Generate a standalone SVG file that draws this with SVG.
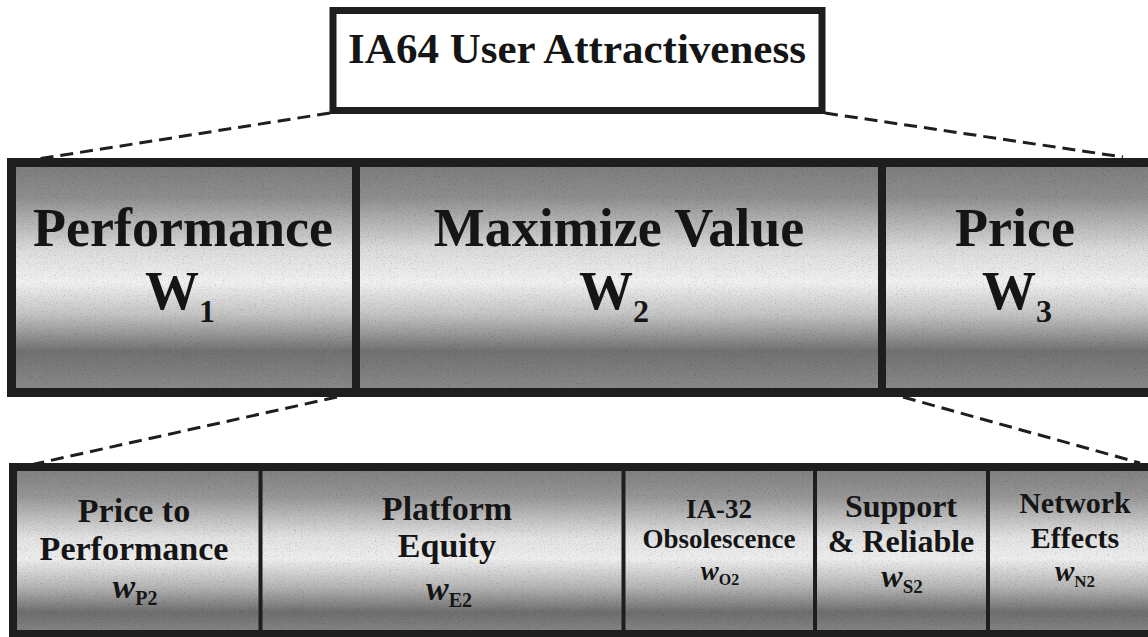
<svg xmlns="http://www.w3.org/2000/svg" width="1148" height="637" viewBox="0 0 1148 637">
  <style>
    .t { font-family: "Liberation Serif", "Times New Roman", serif; font-weight: bold; fill: #151515; text-anchor: middle; }
    .w { font-style: italic; }
    .sub { font-style: normal; }
    .frame { fill: none; stroke: #1e1e1e; }
    .dash { fill: none; stroke: #1e1e1e; stroke-width: 3; stroke-dasharray: 13 7; }
    .div { stroke: #1e1e1e; }
  </style>
  <defs>
    <!-- brushed-metal style vertical shading for the bands -->
    <linearGradient id="metalMid" x1="0" y1="0" x2="0" y2="1">
      <stop offset="0" stop-color="#7c7c7c"/>
      <stop offset="0.15" stop-color="#8e8e8e"/>
      <stop offset="0.38" stop-color="#dcdcdc"/>
      <stop offset="0.52" stop-color="#f1f1f1"/>
      <stop offset="0.66" stop-color="#c4c4c4"/>
      <stop offset="0.82" stop-color="#717171"/>
      <stop offset="1" stop-color="#8c8c8c"/>
    </linearGradient>
    <linearGradient id="metalLow" x1="0" y1="0" x2="0" y2="1">
      <stop offset="0" stop-color="#7e7e7e"/>
      <stop offset="0.18" stop-color="#979797"/>
      <stop offset="0.42" stop-color="#e2e2e2"/>
      <stop offset="0.55" stop-color="#eeeeee"/>
      <stop offset="0.72" stop-color="#b4b4b4"/>
      <stop offset="0.87" stop-color="#6e6e6e"/>
      <stop offset="1" stop-color="#888888"/>
    </linearGradient>
    <!-- fine speckle texture over the shading -->
    <filter id="grain" x="0" y="0" width="100%" height="100%">
      <feTurbulence type="fractalNoise" baseFrequency="0.85" numOctaves="2" seed="7" result="noise"/>
      <feColorMatrix in="noise" type="matrix" values="0.5 0.5 0.5 0 0.26  0.5 0.5 0.5 0 0.26  0.5 0.5 0.5 0 0.26  0 0 0 0 1" result="gray"/>
      <feBlend in="SourceGraphic" in2="gray" mode="multiply" result="mixed"/>
      <feComposite in="mixed" in2="SourceGraphic" operator="in"/>
    </filter>
  </defs>

  <rect width="1148" height="637" fill="#ffffff"/>

  <!-- connectors -->
  <g id="connectors">
    <line class="dash" x1="330" y1="113" x2="38" y2="159"/>
    <line class="dash" x1="825" y1="113" x2="1123" y2="157"/>
    <line class="dash" x1="337" y1="397" x2="30" y2="465"/>
    <line class="dash" x1="903" y1="397" x2="1140" y2="463"/>
  </g>

  <!-- goal -->
  <g id="goal">
    <rect x="333" y="10.5" width="489" height="100" fill="#ffffff" class="frame" stroke-width="7"/>
    <text class="t" x="577" y="63" font-size="43">IA64 User Attractiveness</text>
  </g>

  <!-- top-level criteria band -->
  <g id="criteria">
    <rect x="11.5" y="162.5" width="1150" height="230" fill="url(#metalMid)" filter="url(#grain)"/>
    <rect x="11.5" y="162.5" width="1150" height="230" class="frame" stroke-width="9"/>
    <line class="div" x1="356" y1="162" x2="356" y2="393" stroke-width="8"/>
    <line class="div" x1="882" y1="162" x2="882" y2="393" stroke-width="8"/>
  </g>
  <g id="performance">
    <text class="t" x="183" y="246" font-size="54">Performance</text>
    <text class="t" x="180" y="309" font-size="54">W<tspan font-size="32" dy="13">1</tspan></text>
  </g>
  <g id="maximize-value">
    <text class="t" x="619" y="246" font-size="54">Maximize Value</text>
    <text class="t" x="614" y="309" font-size="54">W<tspan font-size="32" dy="13">2</tspan></text>
  </g>
  <g id="price">
    <text class="t" x="1015" y="246" font-size="54">Price</text>
    <text class="t" x="1017" y="309" font-size="54">W<tspan font-size="32" dy="13">3</tspan></text>
  </g>

  <!-- value sub-criteria band -->
  <g id="subcriteria">
    <rect x="13" y="467" width="1150" height="167" fill="url(#metalLow)" filter="url(#grain)"/>
    <rect x="13" y="467" width="1150" height="167" class="frame" stroke-width="8"/>
    <line class="div" x1="260.5" y1="467" x2="260.5" y2="634" stroke-width="4"/>
    <line class="div" x1="623.5" y1="467" x2="623.5" y2="634" stroke-width="4"/>
    <line class="div" x1="815" y1="467" x2="815" y2="634" stroke-width="4"/>
    <line class="div" x1="988" y1="467" x2="988" y2="634" stroke-width="4"/>
  </g>
  <g id="price-to-performance">
    <text class="t" x="134" y="522" font-size="34">Price to</text>
    <text class="t" x="134" y="560" font-size="34">Performance</text>
    <text class="t" x="135" y="598" font-size="34"><tspan class="w">w</tspan><tspan class="sub" font-size="20" dy="7">P2</tspan></text>
  </g>
  <g id="platform-equity">
    <text class="t" x="447" y="520" font-size="34">Platform</text>
    <text class="t" x="447" y="557" font-size="34">Equity</text>
    <text class="t" x="449" y="600" font-size="34"><tspan class="w">w</tspan><tspan class="sub" font-size="20" dy="7">E2</tspan></text>
  </g>
  <g id="ia32-obsolescence">
    <text class="t" x="719" y="518" font-size="27">IA-32</text>
    <text class="t" x="719" y="548" font-size="27">Obsolescence</text>
    <text class="t" x="720" y="580" font-size="27"><tspan class="w">w</tspan><tspan class="sub" font-size="16" dy="5">O2</tspan></text>
  </g>
  <g id="support-reliable">
    <text class="t" x="901" y="517" font-size="32">Support</text>
    <text class="t" x="901" y="552" font-size="32">&amp; Reliable</text>
    <text class="t" x="902" y="587" font-size="32"><tspan class="w">w</tspan><tspan class="sub" font-size="19" dy="6">S2</tspan></text>
  </g>
  <g id="network-effects">
    <text class="t" x="1075" y="513" font-size="30">Network</text>
    <text class="t" x="1075" y="548" font-size="30">Effects</text>
    <text class="t" x="1075" y="581" font-size="29"><tspan class="w">w</tspan><tspan class="sub" font-size="17" dy="6">N2</tspan></text>
  </g>
</svg>
